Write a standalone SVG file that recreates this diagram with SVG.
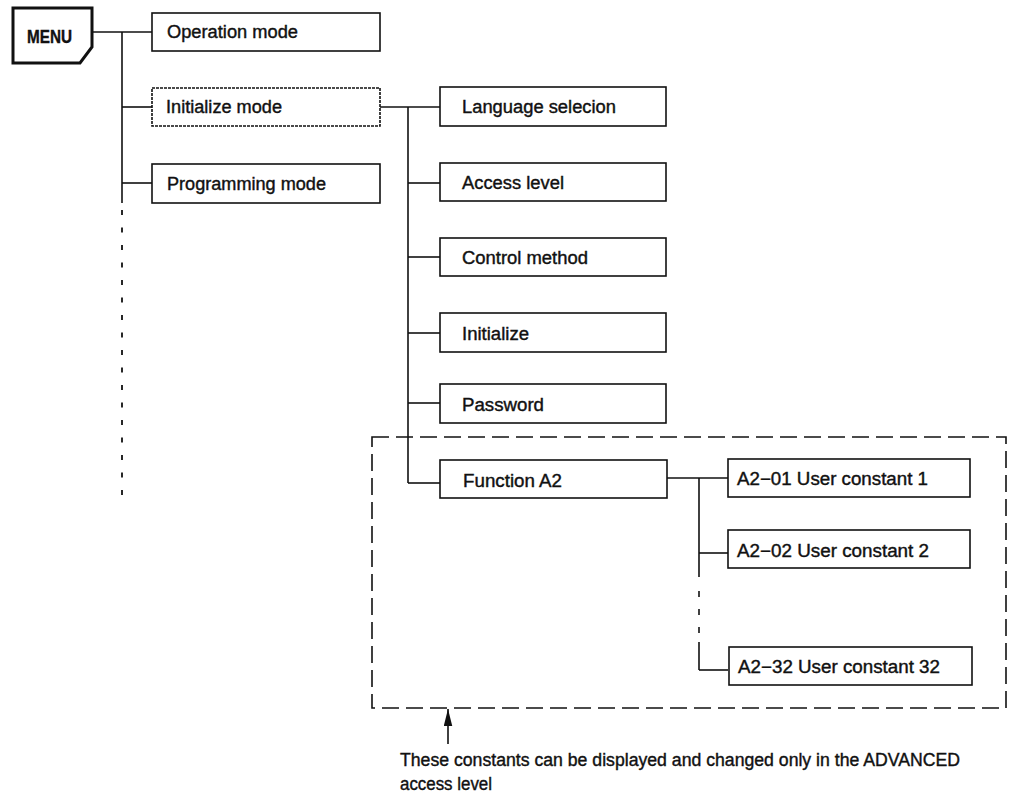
<svg xmlns="http://www.w3.org/2000/svg" width="1009" height="799" viewBox="0 0 1009 799">
<style>
  .box { fill: #fff; stroke: #111; stroke-width: 1.6; }
  .lbl { font-family: "Liberation Sans", Arial, sans-serif; font-size: 18px; fill: #111; stroke: #111; stroke-width: 0.4; }
  .ln { stroke: #111; stroke-width: 1.6; fill: none; }
  .dash { stroke: #111; stroke-width: 1.8; fill: none; stroke-dasharray: 5 12.5; }
  .grp { stroke: #111; stroke-width: 1.6; fill: none; stroke-dasharray: 17 7; }
</style>
<defs>
  <marker id="arr" viewBox="0 0 20 10" refX="20" refY="5" markerWidth="17" markerHeight="9" markerUnits="userSpaceOnUse" orient="auto">
    <path d="M0,0 L20,5 L0,10 Z" fill="#111"/>
  </marker>
</defs>
<rect width="1009" height="799" fill="#fff"/>

<g id="connectors">
  <line class="ln" x1="92" y1="32" x2="152" y2="32"/>
  <line class="ln" x1="122" y1="32" x2="122" y2="203"/>
  <line class="dash" x1="122" y1="210" x2="122" y2="498"/>
  <line class="ln" x1="122" y1="107" x2="152" y2="107"/>
  <line class="ln" x1="122" y1="183" x2="152" y2="183"/>

  <line class="ln" x1="380" y1="107" x2="440" y2="107"/>
  <line class="ln" x1="408" y1="107" x2="408" y2="483"/>
  <line class="ln" x1="408" y1="183" x2="440" y2="183"/>
  <line class="ln" x1="408" y1="257" x2="440" y2="257"/>
  <line class="ln" x1="408" y1="333" x2="440" y2="333"/>
  <line class="ln" x1="408" y1="403" x2="440" y2="403"/>
  <line class="ln" x1="408" y1="483" x2="440" y2="483"/>

  <line class="ln" x1="667" y1="478" x2="728" y2="478"/>
  <line class="ln" x1="699" y1="478" x2="699" y2="577"/>
  <line class="ln" x1="699" y1="591" x2="699" y2="597"/>
  <line class="ln" x1="699" y1="609" x2="699" y2="615"/>
  <line class="ln" x1="699" y1="627" x2="699" y2="633"/>
  <line class="ln" x1="699" y1="642" x2="699" y2="670"/>
  <line class="ln" x1="699" y1="553" x2="728" y2="553"/>
  <line class="ln" x1="699" y1="670" x2="728" y2="670"/>

  <rect class="grp" x="372" y="437" width="634" height="271"/>
  <line class="ln" x1="448" y1="744" x2="448" y2="709" marker-end="url(#arr)"/>
</g>

<g id="menu">
  <path d="M13,8 H92 V47 L80,63 H13 Z" fill="#fff" stroke="#111" stroke-width="3"/>
  <text class="lbl" x="27" y="43" font-weight="bold" font-size="15" stroke-width="0" textLength="45" lengthAdjust="spacingAndGlyphs">MENU</text>
</g>

<g id="operation-mode">
  <rect class="box" x="152" y="13" width="228" height="38"/>
  <text class="lbl" x="167" y="38" textLength="131" lengthAdjust="spacingAndGlyphs">Operation mode</text>
</g>
<g id="initialize-mode">
  <rect class="box" x="152" y="88" width="228" height="38" stroke-dasharray="3 1"/>
  <text class="lbl" x="166" y="113" textLength="116" lengthAdjust="spacingAndGlyphs">Initialize mode</text>
</g>
<g id="programming-mode">
  <rect class="box" x="152" y="164" width="228" height="39"/>
  <text class="lbl" x="167" y="190" textLength="159" lengthAdjust="spacingAndGlyphs">Programming mode</text>
</g>

<g id="language-selection">
  <rect class="box" x="440" y="87" width="226" height="39"/>
  <text class="lbl" x="462" y="113" textLength="154" lengthAdjust="spacingAndGlyphs">Language selecion</text>
</g>
<g id="access-level">
  <rect class="box" x="440" y="163" width="226" height="38"/>
  <text class="lbl" x="462" y="189" textLength="102" lengthAdjust="spacingAndGlyphs">Access level</text>
</g>
<g id="control-method">
  <rect class="box" x="440" y="238" width="226" height="38"/>
  <text class="lbl" x="462" y="264" textLength="126" lengthAdjust="spacingAndGlyphs">Control method</text>
</g>
<g id="initialize">
  <rect class="box" x="440" y="313" width="226" height="39"/>
  <text class="lbl" x="462" y="340" textLength="67" lengthAdjust="spacingAndGlyphs">Initialize</text>
</g>
<g id="password">
  <rect class="box" x="440" y="384" width="226" height="39"/>
  <text class="lbl" x="462" y="411" textLength="82" lengthAdjust="spacingAndGlyphs">Password</text>
</g>
<g id="function-a2">
  <rect class="box" x="440" y="460" width="227" height="38"/>
  <text class="lbl" x="463" y="487" textLength="99" lengthAdjust="spacingAndGlyphs">Function A2</text>
</g>

<g id="a2-01">
  <rect class="box" x="728" y="459" width="242" height="38"/>
  <text class="lbl" x="737" y="485" textLength="191" lengthAdjust="spacingAndGlyphs">A2−01 User constant 1</text>
</g>
<g id="a2-02">
  <rect class="box" x="728" y="530" width="242" height="38"/>
  <text class="lbl" x="737" y="557" textLength="192" lengthAdjust="spacingAndGlyphs">A2−02 User constant 2</text>
</g>
<g id="a2-32">
  <rect class="box" x="729" y="647" width="243" height="38"/>
  <text class="lbl" x="738" y="673" textLength="202" lengthAdjust="spacingAndGlyphs">A2−32 User constant 32</text>
</g>

<g id="note">
  <text class="lbl" x="400" y="766" font-size="17.5" textLength="560" lengthAdjust="spacingAndGlyphs">These constants can be displayed and changed only in the ADVANCED</text>
  <text class="lbl" x="400" y="790" font-size="17.5" textLength="92" lengthAdjust="spacingAndGlyphs">access level</text>
</g>
</svg>
